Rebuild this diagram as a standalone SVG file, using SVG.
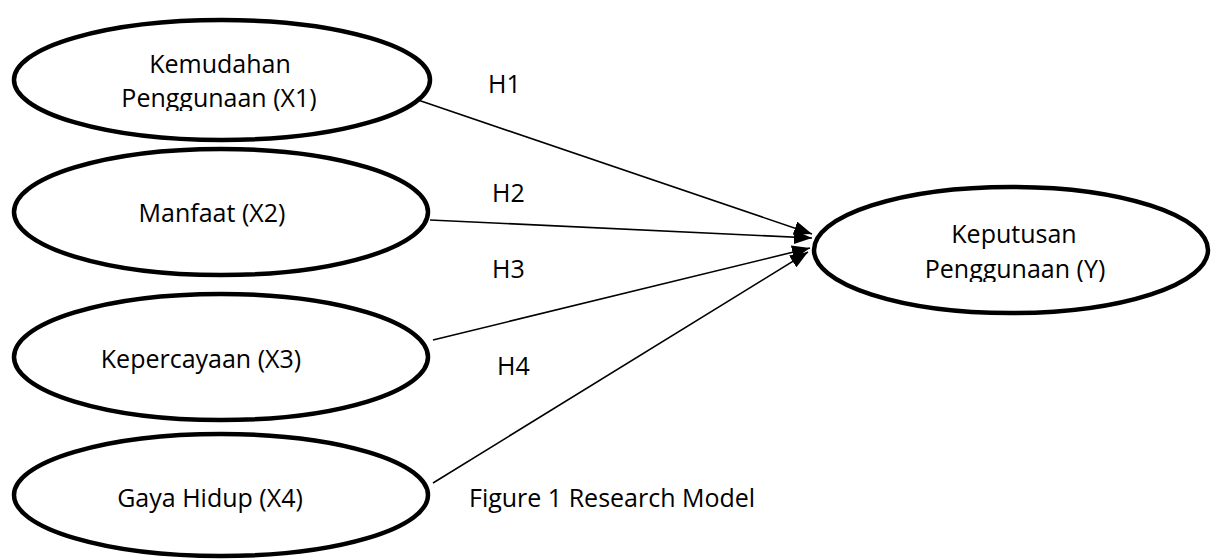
<svg xmlns="http://www.w3.org/2000/svg" width="1212" height="560" viewBox="0 0 1212 560">
<style>
.node{fill:#fff;stroke:#000;stroke-width:4.5}
.t{font-family:"Open Sans","Liberation Sans",sans-serif;font-size:25px;fill:#000;text-anchor:middle}
.lab{font-family:"Open Sans","Liberation Sans",sans-serif;font-size:25px;fill:#000}
.c{fill:none;stroke:#000;stroke-width:1.6}
</style>
<defs>
<marker id="ah" viewBox="0 0 18 14" refX="18" refY="7" markerWidth="18" markerHeight="14" markerUnits="userSpaceOnUse" orient="auto">
<path d="M0,0 L18,7 L0,14 Z" fill="#000"/>
</marker>
<clipPath id="cl1"><rect x="0" y="0" width="440" height="111"/></clipPath>
<clipPath id="clY"><rect x="800" y="0" width="412" height="282"/></clipPath>
</defs>
<rect width="1212" height="560" fill="#fff"/>
<g id="connectors">
<path class="c" d="M418,100 L812,234" marker-end="url(#ah)"/>
<path class="c" d="M430,220 L812,238" marker-end="url(#ah)"/>
<path class="c" d="M433,340 L810,248" marker-end="url(#ah)"/>
<path class="c" d="M433,483 L808,252" marker-end="url(#ah)"/>
</g>
<g id="x1">
<ellipse class="node" cx="222" cy="80" rx="208" ry="60"/>
<text class="t" x="220" y="73">Kemudahan</text>
<text class="t" x="219" y="107" clip-path="url(#cl1)">Penggunaan (X1)</text>
</g>
<g id="x2">
<ellipse class="node" cx="221" cy="212" rx="207" ry="63"/>
<text class="t" x="212" y="222">Manfaat (X2)</text>
</g>
<g id="x3">
<ellipse class="node" cx="221" cy="357" rx="207" ry="63"/>
<text class="t" x="201" y="368">Kepercayaan (X3)</text>
</g>
<g id="x4">
<ellipse class="node" cx="221" cy="495" rx="207" ry="61"/>
<text class="t" x="210" y="507">Gaya Hidup (X4)</text>
</g>
<g id="y">
<ellipse class="node" cx="1011" cy="250" rx="197" ry="63"/>
<text class="t" x="1014" y="243">Keputusan</text>
<text class="t" x="1015" y="278" clip-path="url(#clY)">Penggunaan (Y)</text>
</g>
<g id="labels">
<text class="lab" x="488" y="93">H1</text>
<text class="lab" x="492" y="202">H2</text>
<text class="lab" x="492" y="278">H3</text>
<text class="lab" x="497" y="375">H4</text>
<text class="lab" x="469" y="507">Figure 1 Research Model</text>
</g>
</svg>
